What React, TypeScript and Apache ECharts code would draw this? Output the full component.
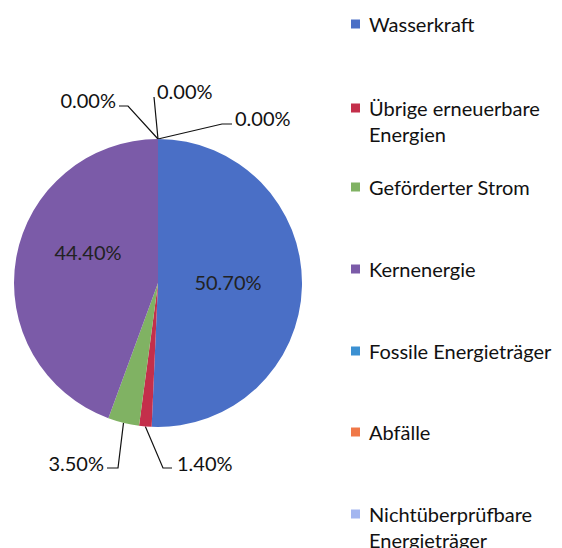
import React, { useEffect, useRef } from "react";
import * as echarts from "echarts";

// ---- data ----
const categories = [
  "Wasserkraft",
  "Übrige erneuerbare Energien",
  "Geförderter Strom",
  "Kernenergie",
  "Fossile Energieträger",
  "Abfälle",
  "Nichtüberprüfbare Energieträger",
];
const legendLabels = [
  "Wasserkraft",
  "Übrige erneuerbare\nEnergien",
  "Geförderter Strom",
  "Kernenergie",
  "Fossile Energieträger",
  "Abfälle",
  "Nichtüberprüfbare\nEnergieträger",
];
const shares = [50.7, 1.4, 3.5, 44.4, 0, 0, 0];
const colors = ["#4a6fc6", "#c42f4b", "#80b263", "#7b5ba8", "#3b90d2", "#f07848", "#a3b6f0"];
const insideSlices = [0, 3];

// ---- layout (not data) ----
const FONT = "Lato, 'Noto Sans', sans-serif";
const LINE_H = 26;
const legendCenters = [24, 108, 187, 269, 351, 432, 514];
// square marker at the top of a taller icon box, so it lines up with the first text line
const TALL_ICON = "path://M0,0H9V9H0Z M0,34.99H0.01V35H0Z";
type Spot = { x: number; y: number; align: string; line?: number[][] };
const labelSpots: Spot[] = [
  { x: 228, y: 282, align: "center" },
  { x: 177, y: 463, align: "left", line: [[163, 468], [172, 468]] },
  { x: 104, y: 463, align: "right", line: [[118, 468], [107, 468]] },
  { x: 88, y: 252, align: "center" },
  { x: 116, y: 100, align: "right", line: [[128, 106], [119, 106]] },
  { x: 157, y: 91, align: "left", line: [[154, 97]] },
  { x: 235, y: 118, align: "left", line: [[222, 124], [232, 124]] },
];

export default function App() {
  const ref = useRef<HTMLDivElement>(null);
  useEffect(() => {
    if (!ref.current) return;
    const chart = echarts.init(ref.current, null, { renderer: "svg" });
    const legends = categories.map((name, i) => {
      const two = legendLabels[i].includes("\n");
      return {
        show: true,
        data: [name],
        left: 351,
        top: legendCenters[i] - 13,
        orient: "vertical",
        icon: two ? TALL_ICON : "rect",
        itemWidth: 9,
        itemHeight: two ? 9 + LINE_H : 9,
        padding: 0,
        selectedMode: false,
        formatter: () => legendLabels[i],
        textStyle: {
          fontFamily: FONT,
          fontSize: 20,
          color: "#111",
          lineHeight: LINE_H,
          padding: [0, 0, 0, 4],
        },
      };
    });
    chart.setOption({
      animation: false,
      color: colors,
      legend: legends,
      series: [
        {
          type: "pie",
          center: [158, 283],
          radius: 144,
          startAngle: 90,
          clockwise: true,
          avoidLabelOverlap: false,
          label: {
            show: true,
            position: "outside",
            formatter: (p: any) => p.value.toFixed(2) + "%",
            fontFamily: FONT,
            fontSize: 20,
            color: "#111",
          },
          labelLine: { show: true, length: 10, length2: 10, lineStyle: { color: "#111", width: 1.2 } },
          labelLayout: (p: any) => {
            const s = labelSpots[p.dataIndex];
            const out: any = { x: s.x, y: s.y, align: s.align, verticalAlign: "middle" };
            if (s.line && p.labelLinePoints && p.labelLinePoints[0]) {
              out.labelLinePoints = [p.labelLinePoints[0], ...s.line];
            }
            return out;
          },
          itemStyle: { borderWidth: 0 },
          emphasis: { disabled: true },
          data: categories.map((name, i) => {
            const inside = insideSlices.includes(i);
            return {
              name,
              value: shares[i],
              label: inside ? { position: "inside", color: "#222" } : undefined,
              labelLine: inside ? { show: false } : undefined,
            };
          }),
        },
      ],
    });
    return () => chart.dispose();
  }, []);
  return (
    <div
      ref={ref}
      style={{ position: "absolute", left: 0, top: 0, width: 562, height: 548, background: "#fff" }}
    />
  );
}
